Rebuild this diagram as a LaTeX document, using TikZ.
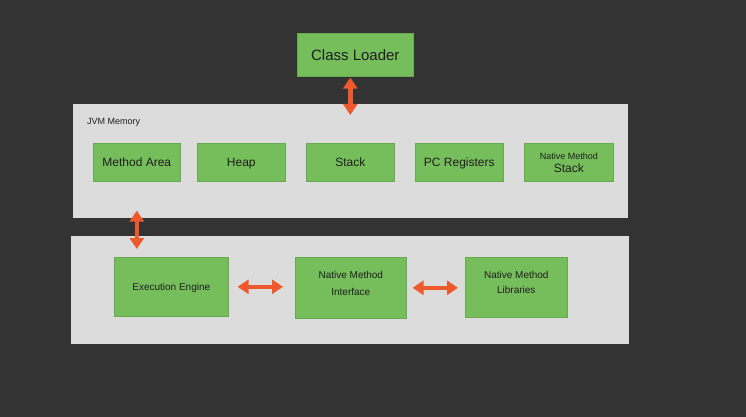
\documentclass[tikz,border=0pt]{standalone}
\usepackage{fontspec}
\setmainfont{Liberation Sans}
\usetikzlibrary{arrows.meta}
\definecolor{bg}{HTML}{333333}
\definecolor{panel}{HTML}{DCDCDC}
\definecolor{boxg}{HTML}{76BD5B}
\definecolor{boxedge}{HTML}{68AA4F}
\definecolor{arr}{HTML}{EE5A2C}
\definecolor{txt}{HTML}{1E1E1E}
\tikzset{
  gbox/.style={fill=boxg, draw=boxedge, line width=0.6pt, inner sep=0pt, anchor=north west, text=txt, align=center},
  oneline/.style={text depth=0pt},
  panelbox/.style={fill=panel, draw=none, inner sep=0pt, anchor=north west},
  biarrow/.style={draw=arr, line width=4.5pt, {Triangle[width=14pt,length=11pt]}-{Triangle[width=14pt,length=11pt]}},
}
\begin{document}
\begin{tikzpicture}[x=1pt,y=-1pt]
\fill[bg] (0,0) rectangle (746,417);
\useasboundingbox (0,0) rectangle (746,417);

\node[gbox, oneline, minimum width=116pt, minimum height=43pt, font=\fontsize{15}{17}\selectfont] (cl) at (297,33) {Class Loader};

\node[panelbox, minimum width=555pt, minimum height=114pt] (mem) at (73,104) {};
\node[anchor=west, inner sep=0pt, text=txt, font=\fontsize{9}{10}\selectfont] (memlbl) at (87,122) {JVM Memory};

\node[gbox, oneline, minimum width=87pt, minimum height=38pt, font=\fontsize{12}{14}\selectfont] (ma) at (93,143) {Method Area};
\node[gbox, oneline, minimum width=88pt, minimum height=38pt, font=\fontsize{12}{14}\selectfont] (heap) at (197,143) {Heap};
\node[gbox, oneline, minimum width=88pt, minimum height=38pt, font=\fontsize{12}{14}\selectfont] (stack) at (306,143) {Stack};
\node[gbox, oneline, minimum width=88pt, minimum height=38pt, font=\fontsize{12}{14}\selectfont] (pc) at (415,143) {PC Registers};
\node[gbox, minimum width=89pt, minimum height=38pt] (nms) at (524,143) {{\fontsize{9}{10}\selectfont Native Method}\\[1pt]{\fontsize{12}{13}\selectfont Stack}};

\node[panelbox, minimum width=558pt, minimum height=108pt] (low) at (71,236) {};

\node[gbox, oneline, minimum width=114pt, minimum height=59pt, font=\fontsize{10}{12}\selectfont] (ee) at (114,257) {Execution Engine};
\node[gbox, minimum width=111pt, minimum height=61pt, font=\fontsize{10}{17}\selectfont] (nmi) at (295,257) {Native Method\\Interface\rule[-8pt]{0pt}{8pt}};
\node[gbox, minimum width=102pt, minimum height=60pt, font=\fontsize{10}{15}\selectfont] (nml) at (465,257) {Native Method\\Libraries\rule[-10pt]{0pt}{10pt}};

\draw[biarrow, shorten <=1pt, shorten >=28pt] (cl.south -| stack.north) -- (stack.north);
\draw[biarrow, shorten <=29pt, shorten >=8pt] (ma.south) -- (ma.south |- ee.north);
\draw[biarrow, shorten <=9pt, shorten >=12pt] (ee.east) -- (ee.east -| nmi.west);
\draw[biarrow, shorten <=6pt, shorten >=7pt] (nmi.east) -- (nmi.east -| nml.west);
\end{tikzpicture}
\end{document}
